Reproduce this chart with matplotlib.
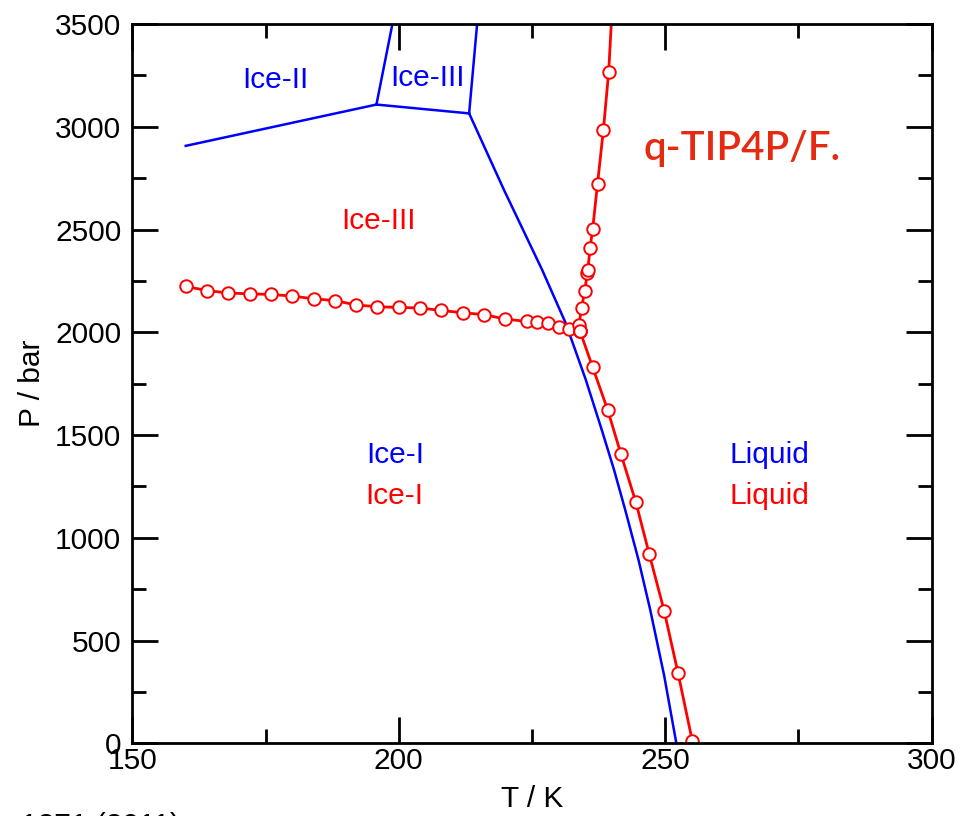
import matplotlib
matplotlib.use("Agg")
import matplotlib.pyplot as plt
from matplotlib.ticker import MultipleLocator

plt.rcParams['font.family'] = ['Liberation Sans', 'DejaVu Sans']

# --- Data ---
# q-TIP4P/F. simulated coexistence lines (red, circles)
t_I_III = [160, 164, 168, 172, 176, 180, 184, 188, 192, 196, 200, 204, 208,
           212, 216, 220, 224, 226, 228, 230, 232, 234]
p_I_III = [2223, 2203, 2191, 2187, 2184, 2176, 2163, 2154, 2133, 2124, 2121,
           2118, 2106, 2095, 2086, 2064, 2053, 2050, 2045, 2027, 2016, 2007]

t_III_L = [234.0, 233.8, 234.3, 234.9, 235.4, 235.5, 235.9, 236.4, 237.3, 238.4, 239.4, 240.4]
p_III_L = [2007, 2036, 2116, 2203, 2290, 2305, 2410, 2504, 2722, 2984, 3267, 3750]

t_I_L = [234.0, 236.4, 239.2, 241.7, 244.5, 247.0, 249.8, 252.4, 255.1]
p_I_L = [2007, 1829, 1623, 1407, 1173, 922, 646, 344, 11]

# Experimental phase diagram (blue lines)
t_exp_II_I = [160.0, 195.8]
p_exp_II_I = [2907, 3108]
t_exp_II_III = [195.8, 198.8]
p_exp_II_III = [3108, 3500]
t_exp_III_I = [195.8, 213.2]
p_exp_III_I = [3108, 3065]
t_exp_III_L = [213.2, 214.7]
p_exp_III_L = [3065, 3500]
t_exp_I_L = [213.2, 219.7, 226.9, 231.3, 235.1, 238.1, 240.4, 242.5,
             245.0, 247.2, 249.8, 252.1]
p_exp_I_L = [3065, 2695, 2304, 2046, 1769, 1525, 1331, 1136,
             892, 649, 331, 0]

RED = '#ff0000'
BLUE = '#0000ff'

fig = plt.figure(figsize=(9.64, 8.16), dpi=100)
ax = fig.add_axes([0.1374, 0.0891, 0.8289, 0.8815])

for t, p in [(t_exp_II_I, p_exp_II_I), (t_exp_II_III, p_exp_II_III),
             (t_exp_III_I, p_exp_III_I), (t_exp_III_L, p_exp_III_L),
             (t_exp_I_L, p_exp_I_L)]:
    ax.plot(t, p, color=BLUE, lw=1.8, solid_joinstyle='round')

mk = dict(color=RED, lw=2.0, marker='o', ms=9, mfc='white', mec=RED, mew=1.4)
ax.plot(t_I_III, p_I_III, **mk)
ax.plot(t_III_L, p_III_L, **mk)
ax.plot(t_I_L, p_I_L, **mk)

fs = 21.5
ax.set_xlim(150, 300)
ax.set_ylim(0, 3500)
ax.xaxis.set_major_locator(MultipleLocator(50))
ax.xaxis.set_minor_locator(MultipleLocator(25))
ax.yaxis.set_major_locator(MultipleLocator(500))
ax.yaxis.set_minor_locator(MultipleLocator(250))
ax.tick_params(which='both', direction='in', top=True, right=True, width=2,
               labelsize=fs)
ax.tick_params(which='major', length=19)
ax.tick_params(which='minor', length=10)
ax.tick_params(axis='x', pad=3)
ax.tick_params(axis='y', pad=8)
for s in ax.spines.values():
    s.set_linewidth(2)

ax.set_xlabel('T / K', fontsize=fs)
ax.set_ylabel('P / bar', fontsize=fs)
ax.xaxis.set_label_coords(0.5, -0.058)
ax.yaxis.set_label_coords(-0.108, 0.5)

tk = dict(fontsize=fs, ha='center', va='baseline')
ax.text(176.75, 3189, 'Ice-II', color=BLUE, **tk)
ax.text(205.3, 3200, 'Ice-III', color=BLUE, **tk)
ax.text(196.1, 2504, 'Ice-III', color=RED, **tk)
ax.text(199.4, 1366, 'Ice-I', color=BLUE, **tk)
ax.text(199.1, 1165, 'Ice-I', color=RED, **tk)
ax.text(269.5, 1366, 'Liquid', color=BLUE, **tk)
ax.text(269.5, 1165, 'Liquid', color=RED, **tk)

ax.text(245.9, 2839, 'q-TIP4P/F.', color='#e52a12', fontsize=29,
        family=['Lato', 'DejaVu Sans'], fontweight='semibold',
        ha='left', va='baseline')

fig.text(0.022, 0.0045, '1271 (2011)', fontsize=fs, ha='left', va='top')

fig.savefig('out.png', dpi=100)
